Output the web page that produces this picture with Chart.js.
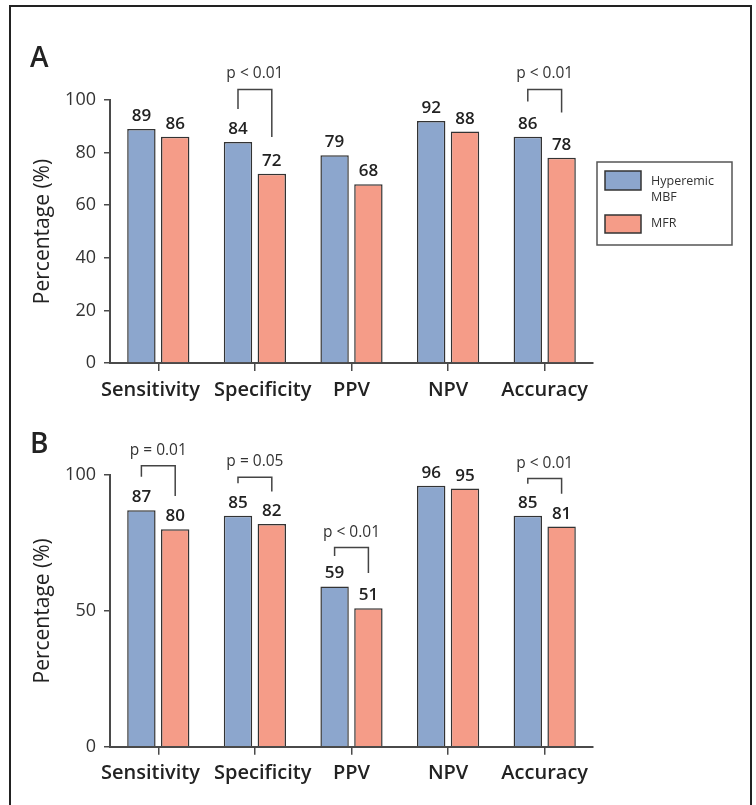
<!DOCTYPE html>
<html>
<head>
<meta charset="utf-8">
<script src="https://cdn.jsdelivr.net/npm/chart.js@4"></script>
<style>
  html, body { margin: 0; padding: 0; background: #fff; width: 756px; height: 805px; overflow: hidden; }
  #frame { position: absolute; left: 9px; top: 5px; width: 739px; height: 830px; border: 2px solid #222; }
  canvas { position: absolute; left: 0; }
  #cA { top: 0; }
  #cB { top: 400px; }
</style>
</head>
<body>
<div id="frame"></div>
<canvas id="cA" width="756" height="415"></canvas>
<canvas id="cB" width="756" height="405"></canvas>
<script>
// ---- data ----
const categories = ['Sensitivity', 'Specificity', 'PPV', 'NPV', 'Accuracy'];
const seriesNames = ['Hyperemic MBF', 'MFR'];
const legendLines = [['Hyperemic', 'MBF'], ['MFR']];

const panelA_MBF = [89, 84, 79, 92, 86];
const panelA_MFR = [86, 72, 68, 88, 78];
const panelB_MBF = [87, 85, 59, 96, 85];
const panelB_MFR = [80, 82, 51, 95, 81];

const ticksA = [0, 20, 40, 60, 80, 100];
const ticksB = [0, 50, 100];

// significance brackets: category, text, left-leg bottom, right-leg bottom, top (in % units)
const bracketsA = [
  { cat: 'Specificity', text: 'p < 0.01', left: 96.6, right: 85.9, top: 104 },
  { cat: 'Accuracy', text: 'p < 0.01', left: 99.4, right: 95.2, top: 104 }
];
const bracketsB = [
  { cat: 'Sensitivity', text: 'p = 0.01', left: 99.4, right: 92.3, top: 103.4 },
  { cat: 'Specificity', text: 'p = 0.05', left: 97.0, right: 93.9, top: 99.2 },
  { cat: 'PPV', text: 'p < 0.01', left: 70.2, right: 63.9, top: 73.3 },
  { cat: 'Accuracy', text: 'p < 0.01', left: 96.8, right: 93.1, top: 98.7 }
];

// ---- styles ----
const BLUE = '#8ca6cd';
const RED = '#f59c88';
const BAR_EDGE = '#333';
const AXIS = '#4a4a4a';
const FONT = '"Open Sans", "Noto Sans", sans-serif';
// visual nudge of the first two category labels (as in the original layout)
const labelPad = { 'Sensitivity': ['', '   '], 'Specificity': ['   ', ''] };

function annotPlugin(letter, letterBaseline, brackets, withLegend) {
  return {
    id: 'annot' + letter,
    afterDatasetsDraw(chart) {
      const ctx = chart.ctx;
      const ys = chart.scales.y;
      ctx.save();
      // value labels
      ctx.font = '600 17px ' + FONT;
      ctx.fillStyle = '#222';
      ctx.textAlign = 'center';
      ctx.textBaseline = 'alphabetic';
      chart.data.datasets.forEach((ds, di) => {
        chart.getDatasetMeta(di).data.forEach((bar, i) => {
          ctx.fillText(String(ds.data[i]), bar.x, bar.y - 8);
        });
      });
      // brackets
      ctx.strokeStyle = '#444';
      ctx.lineWidth = 1.5;
      brackets.forEach(b => {
        const idx = chart.data.labels.indexOf(b.cat);
        const xl = chart.getDatasetMeta(0).data[idx].x;
        const xr = chart.getDatasetMeta(1).data[idx].x;
        const yt = ys.getPixelForValue(b.top);
        const yl = ys.getPixelForValue(b.left);
        const yr = ys.getPixelForValue(b.right);
        ctx.beginPath();
        ctx.moveTo(xl, yl);
        ctx.lineTo(xl, yt);
        ctx.lineTo(xr, yt);
        ctx.lineTo(xr, yr);
        ctx.stroke();
        ctx.font = '15.5px ' + FONT;
        ctx.fillStyle = '#333';
        ctx.textAlign = 'center';
        ctx.fillText(b.text, (xl + xr) / 2, yt - 11);
      });
      // panel letter
      ctx.font = '600 28px ' + FONT;
      ctx.fillStyle = '#222';
      ctx.textAlign = 'left';
      ctx.fillText(letter, 30, letterBaseline);
      // legend
      if (withLegend) {
        ctx.strokeStyle = '#555';
        ctx.lineWidth = 1.5;
        ctx.strokeRect(597, 162, 135, 83);
        const sw = [[605, 171, 36, 19], [605, 215, 36, 18]];
        const textY = [[181, 197], [223]];
        chart.data.datasets.forEach((ds, di) => {
          ctx.fillStyle = ds.backgroundColor;
          ctx.fillRect(sw[di][0], sw[di][1], sw[di][2], sw[di][3]);
          ctx.strokeStyle = BAR_EDGE;
          ctx.lineWidth = 1.5;
          ctx.strokeRect(sw[di][0], sw[di][1], sw[di][2], sw[di][3]);
          ctx.font = '12.5px ' + FONT;
          ctx.fillStyle = '#333';
          ctx.textAlign = 'left';
          ctx.textBaseline = 'middle';
          legendLines[di].forEach((ln, k) => ctx.fillText(ln, 651, textY[di][k]));
        });
      }
      ctx.restore();
    }
  };
}

function makeChart(id, mbf, mfr, tickVals, padTop, xHeight, letter, letterBaseline, brackets, withLegend) {
  return new Chart(document.getElementById(id), {
    type: 'bar',
    data: {
      labels: categories,
      datasets: [
        { label: seriesNames[0], data: mbf, backgroundColor: BLUE, borderColor: BAR_EDGE, borderWidth: 1.5 },
        { label: seriesNames[1], data: mfr, backgroundColor: RED, borderColor: BAR_EDGE, borderWidth: 1.5 }
      ]
    },
    options: {
      responsive: false,
      animation: false,
      devicePixelRatio: 1,
      datasets: { bar: { categoryPercentage: 0.70, barPercentage: 0.84 } },
      layout: { padding: { top: padTop, right: 163, left: 0, bottom: 0 } },
      plugins: { legend: { display: false }, tooltip: { enabled: false } },
      scales: {
        x: {
          offset: true,
          grid: { display: true, drawOnChartArea: false, offset: false, tickLength: 8, color: AXIS, lineWidth: 1.5 },
          border: { display: true, color: AXIS, width: 2 },
          ticks: {
            color: '#222', padding: 7, font: { family: FONT, size: 20, weight: '600' }, maxRotation: 0, autoSkip: false,
            callback: function (v, i) {
              const lab = this.getLabelForValue(v);
              const p = labelPad[lab];
              return p ? p[0] + lab + p[1] : lab;
            }
          },
          afterFit: s => { s.height = xHeight; }
        },
        y: {
          min: 0,
          max: 100,
          afterBuildTicks: s => { s.ticks = tickVals.map(v => ({ value: v })); },
          grid: { display: true, drawOnChartArea: false, tickLength: 6, color: AXIS, lineWidth: 1.5 },
          border: { display: true, color: AXIS, width: 2 },
          ticks: { color: '#333', padding: 8, font: { family: FONT, size: 18 } },
          title: { display: true, text: 'Percentage (%)', color: '#222', font: { family: FONT, size: 21, weight: '500' }, padding: { top: 30, bottom: 0 } },
          afterFit: s => { s.width = 110; }
        }
      }
    },
    plugins: [annotPlugin(letter, letterBaseline, brackets, withLegend)]
  });
}

makeChart('cA', panelA_MBF, panelA_MFR, ticksA, 100, 52, 'A', 67, bracketsA, true);
makeChart('cB', panelB_MBF, panelB_MFR, ticksB, 75, 58.3, 'B', 53, bracketsB, false);
</script>
</body>
</html>
